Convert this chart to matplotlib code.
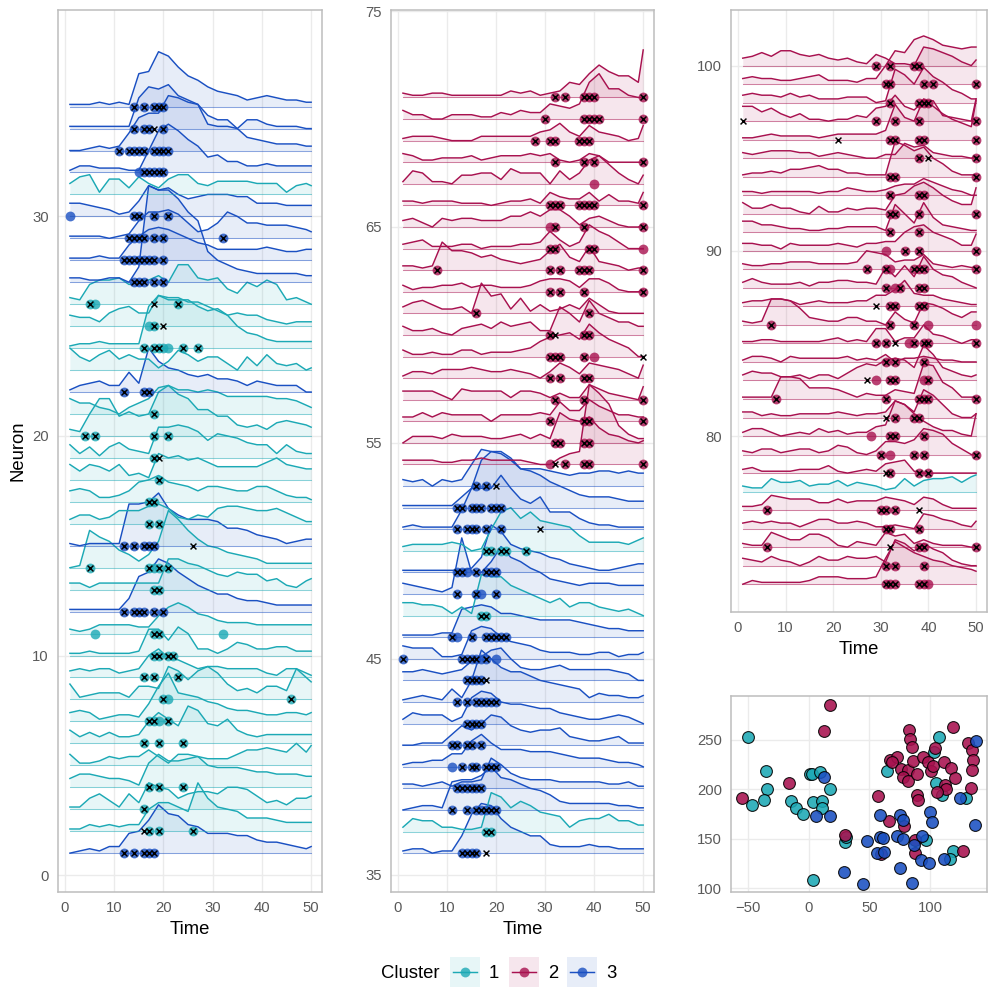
"""Ridgeline of neuron activity by cluster, with an embedding scatter."""

import numpy as np
import matplotlib
matplotlib.use("Agg")
import matplotlib.pyplot as plt
from matplotlib.patches import Rectangle

plt.rcParams["font.family"] = ["Liberation Sans", "DejaVu Sans"]

COLOURS = {1: "#1CA9B5", 2: "#A8114F", 3: "#1A50C2"}
W, H = 997, 997

# times the traces were read at
T = list(range(1, 50, 2)) + [50]

CLUSTER_1 = [2, 3, 4, 5, 6, 7, 8, 9, 10, 11, 13, 14, 16, 17, 18, 19, 20, 21, 23, 24, 25, 26, 31, 37, 47, 50, 77]
CLUSTER_3 = [1, 12, 15, 22, 27, 28, 29, 30, 32, 33, 34, 35, 36, 38, 39, 40, 41, 42, 43, 44, 45, 46, 48, 49, 51, 52, 53]

# trace heights above the neuron baseline, in tenths of a row
HEIGHTS = {
    1: [0,1,2,1,3, 3,9,10,15,22, 18,17,13,12,9, 9,9,8,8,6, 5,5,4,3,2, 3],
    2: [1,1,3,2,3, 2,3,3,10,13, 13,11,9,22,15, 11,10,9,6,6, 6,5,4,4,4, 4],
    3: [1,1,5,7,4, 1,7,3,12,10, 9,5,7,8,8, 7,10,10,9,6, 3,4,2,5,5, 6],
    4: [4,6,6,5,4, 4,3,1,11,15, 12,12,13,14,10, 9,9,9,8,7, 7,6,6,6,5, 5],
    5: [5,1,1,2,4, 3,4,4,7,4, 1,5,5,4,3, 3,3,5,7,7, 8,7,6,10,6, 9],
    6: [6,3,5,3,5, 3,3,4,10,14, 11,8,17,15,9, 8,11,6,4,3, 4,4,4,4,4, 4],
    7: [4,5,4,1,2, 3,3,2,8,16, 22,13,12,11,9, 8,6,5,5,4, 3,3,4,4,3, 4],
    8: [7,1,2,3,3, 3,1,6,6,5, 15,13,9,13,15, 12,7,4,5,3, 6,6,4,14,10, 8],
    9: [3,4,3,4,4, 2,3,4,10,13, 9,8,6,4,5, 5,4,4,4,4, 2,1,4,4,2, 1],
    10: [1,1,2,1,1, 1,1,2,12,12, 7,13,10,3,3, 1,3,6,5,3, 3,4,4,2,2, 2],
    11: [2,1,2,4,4, 4,4,3,3,8, 12,14,12,9,8, 6,5,5,5,4, 4,4,4,4,4, 4],
    12: [1,1,1,1,1, 1,6,16,18,24, 22,18,15,12,10, 8,8,6,5,5, 4,3,3,3,3, 3],
    13: [3,3,1,3,3, 3,3,3,3,3, 14,14,12,11,9, 7,6,8,7,7, 4,5,2,1,4, 5],
    14: [0,1,17,14,12, 8,6,3,6,12, 26,22,17,13,10, 9,7,6,5,4, 2,2,2,2,2, 2],
    15: [1,0,1,1,1, 1,19,19,20,24, 17,14,12,12,12, 11,8,8,7,5, 4,3,1,2,3, 3],
    16: [2,4,4,2,3, 6,6,6,8,9, 7,3,2,4,3, 7,8,8,7,6, 6,7,5,3,1, 1],
    17: [5,6,5,2,2, 3,5,9,10,12, 9,8,7,5,7, 7,6,5,5,7, 7,5,3,2,2, 1],
    18: [7,4,7,6,4, 7,2,3,1,12, 10,11,9,10,8, 6,6,6,6,6, 8,10,7,6,5, 5],
    19: [6,2,5,1,5, 7,4,3,2,14, 14,15,14,12,8, 11,10,9,7,6, 6,2,6,3,2, 2],
    20: [3,2,10,17,17, 9,11,9,10,20, 23,19,17,12,12, 9,9,5,4,5, 3,6,7,6,5, 4],
    21: [7,5,5,3,2, 0,3,5,7,12, 13,11,11,10,11, 10,8,8,8,8, 8,7,7,6,4, 3],
    22: [1,3,4,5,3, 3,9,4,20,14, 11,10,8,7,8, 6,6,5,3,5, 4,3,3,3,0, 0],
    23: [10,6,4,7,9, 5,7,5,5,1, 4,9,7,4,6, 6,3,0,6,2, 7,3,2,3,0, 1],
    24: [1,2,2,3,2, 2,2,2,19,24, 22,22,22,19,17, 18,15,10,7,6, 4,3,3,3,3, 3],
    25: [5,4,4,2,6, 8,9,6,6,14, 13,13,11,11,9, 7,5,6,5,5, 3,2,1,2,2, 2],
    26: [3,2,9,11,11, 12,9,10,11,13, 10,18,18,12,11, 12,7,5,10,8, 11,9,2,3,1, 0],
    27: [2,2,1,1,2, 2,0,7,44,42, 42,38,32,28,14, 10,8,6,5,4, 4,4,4,4,3, 3],
    28: [1,1,1,2,1, 1,7,11,14,15, 14,12,10,8,7, 5,5,5,5,5, 6,5,4,4,5, 5],
    29: [1,1,1,1,0, 1,2,8,12,12, 13,11,7,3,4, 7,12,10,7,7, 6,6,6,5,4, 3],
    30: [6,6,5,4,3, 1,2,7,14,12, 13,10,8,9,10, 10,10,9,9,6, 6,6,5,5,5, 5],
    31: [5,8,9,1,7, 7,3,8,5,3, 7,9,9,5,4, 6,6,6,6,5, 5,5,1,4,5, 4],
    32: [1,3,3,2,2, 2,1,1,10,19, 22,19,15,12,7, 8,5,5,3,3, 4,3,3,3,3, 3],
    33: [0,0,1,2,1, 2,8,15,17,17, 25,24,22,21,16, 14,14,10,6,5, 4,3,3,3,2, 2],
    34: [1,1,1,1,1, 1,1,14,19,18, 20,15,13,11,2, 1,1,0,4,4, 2,1,1,1,0, 0],
    35: [1,1,1,2,1, 2,1,15,16,25, 23,18,14,12,9, 7,6,5,3,4, 5,4,3,3,2, 2],
    36: [1,2,2,0,1, 1,8,18,23,22, 16,12,10,8,8, 4,3,3,3,4, 3,3,2,2,2, 2],
    37: [2,6,5,5,2, 2,1,1,2,18, 16,11,14,12,9, 8,7,2,5,6, 6,8,5,5,3, 3],
    38: [0,1,2,2,1, 13,14,14,16,20, 15,14,12,10,9, 7,4,3,3,3, 3,3,2,2,1, 1],
    39: [2,2,1,2,3, 1,3,3,4,14, 11,7,5,4,4, 4,3,3,3,3, 3,2,2,3,1, 1],
    40: [1,2,2,3,3, 6,6,12,15,11, 8,8,8,7,7, 7,6,5,4,4, 4,3,2,2,1, 0],
    41: [0,0,1,1,1, 5,9,7,10,14, 13,9,7,6,7, 7,8,4,3,2, 2,3,4,1,1, 1],
    42: [2,5,4,4,4, 1,3,12,15,14, 10,9,9,8,7, 7,5,4,3,2, 2,3,4,3,1, 0],
    43: [1,2,3,2,1, 6,2,10,24,20, 16,14,14,12,10, 9,8,7,6,2, 4,3,3,2,2, 3],
    44: [4,4,5,4,3, 4,5,9,11,14, 15,10,6,5,5, 6,7,5,5,5, 5,5,4,3,0, 0],
    45: [6,5,5,5,1, 1,2,13,15,14, 10,8,7,6,4, 3,3,3,2,2, 3,3,1,2,2, 3],
    46: [1,1,1,1,2, 2,13,14,15,14, 11,11,10,9,8, 8,8,8,7,6, 5,4,4,3,3, 3],
    47: [6,6,5,5,4, 1,4,1,19,18, 18,14,12,10,8, 6,8,4,6,6, 4,3,2,3,1, 0],
    48: [5,4,3,2,1, 3,26,10,10,15, 22,17,15,12,10, 7,6,5,4,5, 5,5,4,4,4, 4],
    49: [1,1,1,1,1, 1,1,2,7,22, 19,13,11,10,9, 7,6,4,3,2, 1,1,2,3,4, 4],
    50: [2,3,3,3,3, 4,3,0,1,10, 18,20,15,18,14, 13,12,11,7,4, 4,4,4,3,5, 6],
    51: [1,2,1,1,1, 1,9,19,19,19, 25,19,14,12,15, 8,8,8,5,3, 2,2,1,1,1, 1],
    52: [1,1,1,1,1, 1,5,9,22,26, 25,22,18,17,15, 12,10,8,6,5, 5,5,4,3,3, 3],
    53: [3,2,3,0,3, 2,3,10,17,16, 16,13,8,8,8, 7,6,5,6,6, 7,7,6,7,6, 6],
    54: [2,2,2,2,1, 1,2,2,3,2, 2,2,2,1,0, 0,3,5,6,37, 33,28,18,14,12, 12],
    55: [0,3,3,3,2, 4,3,3,3,2, 2,3,4,2,4, 2,14,11,10,12, 7,4,3,1,0, 1],
    56: [2,2,4,2,4, 3,3,3,3,0, 3,3,3,3,4, 3,9,5,5,10, 7,5,3,3,2, 2],
    57: [4,4,4,4,2, 0,5,4,4,4, 4,1,4,4,3, 1,3,1,1,7, 5,3,2,1,0, 6],
    58: [1,3,3,2,4, 4,4,5,4,3, 3,4,3,2,0, 3,7,5,2,7, 6,5,4,2,0, 6],
    59: [3,1,1,2,1, 1,3,3,1,2, 2,2,3,4,7, 9,10,11,8,15, 11,8,6,4,0, 0],
    60: [4,2,2,3,1, 0,3,4,5,3, 6,4,5,6,2, 2,13,10,6,16, 10,8,6,6,4, 4],
    61: [3,5,6,4,2, 2,3,0,14,8, 9,2,7,1,4, 1,2,4,2,7, 4,1,0,0,0, 0],
    62: [3,1,2,2,3, 3,4,2,3,3, 2,2,2,3,5, 6,6,5,2,6, 6,4,1,0,0, 1],
    63: [2,2,1,2,13, 9,9,8,6,7, 5,4,3,4,5, 9,12,6,4,11, 4,3,2,0,1, 1],
    64: [2,3,4,1,1, 1,2,2,0,1, 1,1,2,2,3, 8,4,1,3,11, 8,6,3,0,0, 0],
    65: [3,4,2,0,4, 3,4,4,3,3, 3,5,5,7,5, 8,8,5,1,4, 5,3,1,0,0, 1],
    66: [2,2,1,2,2, 2,1,1,1,0, 1,2,2,3,1, 6,4,3,3,6, 2,5,2,2,1, 6],
    67: [1,6,5,1,1, 0,4,4,5,5, 2,7,5,5,5, 0,6,2,5,11, 13,9,5,2,0, 4],
    68: [4,3,1,1,2, 2,2,3,1,2, 3,3,3,4,3, 4,1,0,1,4, 3,0,0,0,0, 0],
    69: [1,2,2,2,1, 0,0,0,2,2, 2,2,2,2,4, 5,8,4,2,7, 4,3,2,0,1, 7],
    70: [4,2,2,0,0, 2,2,2,1,1, 3,2,4,3,3, 7,6,5,7,17, 21,14,14,11,10, 10],
    71: [2,1,1,2,2, 1,1,1,1,1, 1,3,2,3,1, 2,3,7,6,11, 15,12,10,10,7, 22],
    72: [0,2,1,1,1, 1,1,2,4,4, 4,3,3,3,4, 14,23,20,17,15, 13,12,10,9,8, 7],
    73: [4,3,2,5,3, 2,0,2,5,3, 3,5,4,4,5, 2,14,12,8,12, 9,7,3,1,0, 0],
    74: [2,1,1,8,6, 4,4,7,7,5, 1,0,3,2,1, 8,6,7,2,4, 2,1,1,1,0, 0],
    75: [3,4,3,4,3, 3,1,3,5,5, 3,3,4,3,1, 1,2,1,0,8, 7,5,4,2,1, 4],
    76: [2,2,3,8,7, 6,6,6,4,4, 6,4,5,5,5, 7,6,5,3,7, 6,3,1,1,1, 1],
    77: [3,2,2,7,5, 5,6,3,4,4, 6,3,5,4,3, 1,2,7,3,6, 7,7,8,5,8, 9],
    78: [2,3,1,1,1, 1,2,2,2,4, 1,0,1,2,1, 5,6,7,1,0, 0,0,0,0,0, 0],
    79: [2,1,3,3,1, 2,3,3,1,2, 5,4,1,0,2, 7,7,6,8,14, 13,11,6,3,0, 0],
    80: [2,4,4,2,0, 1,2,1,4,2, 3,1,2,2,5, 6,19,17,12,8, 5,3,3,1,0, 12],
    81: [3,3,1,2,1, 1,2,2,2,2, 3,2,1,2,2, 3,9,7,3,15, 12,7,2,0,0, 2],
    82: [1,1,1,1,12, 12,11,6,6,6, 5,3,1,3,2, 2,5,4,3,19, 18,9,6,1,1, 1],
    83: [3,5,4,4,2, 2,3,1,3,3, 1,4,7,9,8, 11,12,11,7,19, 14,7,5,3,2, 3],
    84: [1,3,3,2,0, 3,2,2,2,2, 2,3,1,2,1, 4,0,2,2,3, 2,1,1,0,0, 0],
    85: [1,1,2,2,1, 1,1,1,1,2, 3,1,2,1,8, 8,1,3,3,10, 5,4,2,0,2, 2],
    86: [2,1,2,14,14, 13,9,4,3,2, 2,4,4,2,2, 0,7,3,1,12, 11,9,6,4,7, 7],
    87: [2,3,3,4,4, 3,1,2,3,2, 2,2,3,3,6, 6,9,14,7,6, 6,4,3,2,1, 1],
    88: [3,5,3,2,2, 2,3,1,3,3, 4,4,3,3,2, 11,6,12,6,17, 10,7,6,3,1, 0],
    89: [3,2,2,3,3, 4,4,4,3,3, 3,3,4,10,9, 8,4,5,5,8, 3,2,1,2,1, 1],
    90: [4,4,3,3,1, 4,3,3,3,3, 4,3,2,4,4, 5,5,10,13,14, 10,8,6,3,3, 9],
    91: [6,6,4,4,3, 2,2,1,1,2, 2,3,3,3,3, 1,15,10,5,16, 8,4,3,2,1, 1],
    92: [6,3,3,5,3, 3,1,0,4,1, 1,3,2,3,3, 2,10,11,15,17, 14,10,7,5,5, 14],
    93: [2,2,1,2,2, 2,2,2,1,2, 2,4,3,2,2, 3,5,6,6,9, 7,5,3,2,0, 0],
    94: [1,2,2,3,2, 4,4,5,6,4, 4,2,2,1,1, 1,19,17,14,16, 10,7,3,1,1, 1],
    95: [3,2,3,4,4, 4,3,3,1,2, 3,2,1,0,0, 2,2,8,6,7, 3,2,1,1,0, 1],
    96: [1,1,2,3,2, 2,2,2,1,2, 3,3,3,3,3, 5,19,12,10,22, 18,14,11,9,7, 21],
    97: [8,8,5,7,4, 2,4,1,1,0, 1,1,3,2,7, 8,14,8,6,11, 11,3,2,1,0, 12],
    98: [4,5,4,4,3, 5,3,4,2,2, 2,3,3,3,0, 1,18,15,10,19, 14,11,7,5,2, 2],
    99: [3,4,3,3,2, 2,3,4,5,2, 2,2,1,3,3, 10,18,17,24,26, 24,21,20,19,20, 20],
    100: [4,5,7,5,8, 8,6,5,6,4, 3,4,2,1,6, 4,1,1,0,10, 9,7,5,2,0, 3],
}

# spikes with a dot and a cross, dots alone, crosses alone
SPIKES = {
    1: [12, 14, 16, 17, 18], 2: [17, 19, 26], 3: [16], 4: [17, 19, 24], 6: [16, 19, 24],
    7: [17, 18, 21], 8: [20, 46], 9: [16, 18, 23], 10: [18, 19, 21, 22], 11: [18, 19],
    12: [12, 14, 15, 16, 18, 20], 13: [18, 19], 14: [5, 17, 19, 21], 15: [12, 14, 16, 17, 18],
    16: [17, 19], 17: [17, 18], 18: [19], 19: [18], 20: [4, 6, 18, 21], 21: [18],
    22: [12, 16, 17], 24: [16, 18, 19, 24, 27], 25: [18], 26: [5, 23],
    27: [14, 15, 16, 18, 20], 28: [12, 13, 14, 15, 16, 17, 18, 20], 29: [13, 14, 15, 16, 18, 20, 32],
    30: [14, 15, 18, 21], 32: [16, 17, 18, 19, 20], 33: [11, 13, 14, 15, 16, 18, 19, 20, 21],
    34: [14, 16, 17, 20], 35: [14, 16, 18, 19, 20],
    36: [13, 14, 15, 16], 37: [18, 19], 38: [11, 14, 16, 17, 18, 19, 20],
    39: [12, 13, 14, 15, 16, 17], 40: [13, 15, 16, 18, 19, 20], 41: [11, 12, 14, 15, 17],
    42: [14, 15, 16, 17], 43: [12, 14, 16, 17, 18, 19, 20], 44: [14, 15, 16, 17],
    45: [1, 13, 14, 15, 16, 18], 46: [11, 15, 18, 19, 20, 21, 22], 47: [17, 18],
    48: [12, 16, 20], 49: [12, 13, 16, 18, 19, 20], 50: [18, 19, 21, 22, 26],
    51: [12, 14, 15, 16, 18, 21], 52: [12, 13, 15, 16, 17, 19, 20, 21], 53: [16, 18],
    54: [34, 38, 39, 50], 55: [32, 33, 38, 39], 56: [31, 38, 39, 50], 57: [32, 38, 50],
    58: [31, 33, 38, 39], 59: [31, 32, 33, 38], 60: [31, 38, 39], 61: [16, 39],
    62: [31, 33, 38, 50], 63: [8, 31, 33, 37, 38, 39, 50], 64: [31, 32, 39, 40],
    65: [32, 38, 50], 66: [31, 32, 33, 37, 38, 39, 40, 50], 68: [32, 38, 40, 50],
    69: [28, 31, 32, 37, 38, 39], 70: [30, 38, 39, 40, 41, 50], 71: [32, 34, 38, 39, 40, 50],
    72: [31, 32, 33, 38, 39], 73: [31, 33, 39], 74: [6, 38, 39, 50], 75: [31, 32, 38],
    76: [6, 30, 31, 33], 78: [32, 38, 40], 79: [30, 37, 39, 50], 80: [32, 33, 39],
    81: [33, 37, 38], 82: [8, 31, 38, 39, 40, 50], 83: [32, 33, 40], 84: [31, 33, 39],
    85: [29, 31, 37, 39, 40, 50], 86: [7, 32, 37], 87: [32, 33, 38, 39],
    88: [31, 34, 38, 39], 89: [27, 31, 37, 38, 39, 50], 90: [35, 38, 50], 91: [32, 38],
    92: [32, 33, 38, 50], 93: [32, 38, 39], 94: [32, 33, 50], 95: [38, 50],
    96: [32, 33, 38, 39, 50], 97: [29, 33, 38, 50], 98: [32, 38, 39, 40],
    99: [31, 32, 39, 41, 50], 100: [29, 32, 37, 38],
}
DOTS = {
    7: [19], 8: [21], 11: [6, 32], 14: [18], 24: [20, 21], 25: [17], 26: [6], 30: [1], 32: [15],
    40: [11], 45: [17, 20], 46: [12], 48: [17], 49: [14], 54: [31], 59: [40], 64: [50],
    65: [31], 67: [40], 72: [40], 79: [32], 80: [28], 83: [29, 39], 85: [36],
    86: [40, 50], 88: [33], 89: [32], 90: [31],
}
CROSSES = {
    2: [16], 15: [26], 19: [19], 25: [20], 26: [18], 34: [18], 36: [18], 44: [18], 51: [29], 53: [20],
    54: [32], 59: [50], 60: [32], 74: [32], 76: [38], 78: [31], 81: [31], 83: [27],
    85: [33], 87: [29], 95: [40], 96: [21], 97: [1],
}

SCATTER_X_1 = [-50, -35.5, -34.4, -37, -47, -14.6, -10.7, -4.7, 0.8, 3, 9.6, 18, 3.3, 11.3, 11.3, 3.3, 29.8, 31,
               64.5, 107.7, 103, 105, 110, 129.5, 97, 118.7, 116.8]
SCATTER_Y_1 = [253, 219, 200.5, 189, 184, 188, 181, 175, 216, 215.7, 218, 200.5, 187, 188, 181, 108, 146.6, 151.7,
               219, 253, 238, 206.6, 194, 191.4, 149, 138, 129.5]
SCATTER_X_2 = [18, 12.7, -16, -55, 29.8, 57, 66, 78.8, 87.6, 87.6, 60, 82.6, 83.5, 85, 67, 73, 69, 75.8, 82, 78, 82,
               86, 89, 94, 98.6, 100.5, 102.8, 104, 111.6, 117, 120.7, 119.3, 131.7, 134.7, 135.8, 134.4, 134, 89,
               90.4, 112.4, 113, 106, 127.5]
SCATTER_Y_2 = [285, 258.8, 206, 191.4, 154, 193, 168, 162.5, 149, 136, 134, 260.4, 251, 243, 230, 232.5, 227.4, 220.7,
               220, 212, 208, 229, 215, 232.5, 227.4, 219, 224, 241.6, 228, 221.7, 211, 262.8, 246.6, 240, 230, 219.7,
               201.5, 193.8, 188.7, 204, 200.5, 197, 138]
SCATTER_X_3 = [12.4, 6.3, 17.4, 29, 45, 48, 58.7, 59, 61.4, 56.5, 62, 75, 77.4, 73, 78, 75, 85, 86.8, 92.6, 93.7,
               99.4, 100, 102, 111.6, 124.8, 137.7, 137.5]
SCATTER_Y_3 = [212, 172.6, 173, 116, 104.5, 148, 173.6, 151.7, 150.7, 135, 136.5, 173.6, 168.5, 152.7, 150, 120,
               105.5, 144, 128, 153, 125, 177, 167, 129, 191.4, 249.3, 164]


def cluster_of(neuron):
    if neuron in CLUSTER_1:
        return 1
    if neuron in CLUSTER_3:
        return 3
    return 2


def pixel_axes(fig, left, top, right, bottom):
    ax = fig.add_axes([left / W, 1 - bottom / H, (right - left) / W, (bottom - top) / H])
    for s in ax.spines.values():
        s.set_color("#BDBDBD")
        s.set_linewidth(1.1)
    ax.grid(True, color="#EBEBEB", linewidth=1.0)
    ax.set_axisbelow(True)
    ax.tick_params(length=0, labelsize=10.7, labelcolor="#5A5A5A", pad=6.5)
    return ax


def draw_ridges(ax, neurons):
    t = np.array(T)
    for n in neurons:
        col = COLOURS[cluster_of(n)]
        y = n + np.array(HEIGHTS[n]) / 10
        ax.fill_between(t, n, y, color=col, alpha=0.1, linewidth=0)
        ax.plot([t[0], t[-1]], [n, n], color=col, alpha=0.5, linewidth=0.75)
        ax.plot(t, y, color=col, linewidth=1.05, solid_joinstyle="round")
    for n in neurons:
        col = COLOURS[cluster_of(n)]
        sp = SPIKES.get(n, [])
        dots = sp + DOTS.get(n, [])
        cross = sp + CROSSES.get(n, [])
        if dots:
            ax.scatter(dots, [n] * len(dots), s=50, color=col, alpha=0.8, linewidths=0, zorder=4)
        if cross:
            ax.scatter(cross, [n] * len(cross), s=18, marker="x", color="black", linewidths=1.05, zorder=5)
    ax.set_xticks([0, 10, 20, 30, 40, 50])
    ax.set_xlabel("Time", fontsize=13.3, labelpad=4)


fig = plt.figure(figsize=(W / 100, H / 100), dpi=100)

ax1 = pixel_axes(fig, 58, 10, 322, 892)
draw_ridges(ax1, range(1, 36))
ax1.set_xlim(-1.42, 52.2)
ax1.set_ylim(-0.77, 39.4)
ax1.set_yticks([0, 10, 20, 30])
ax1.set_ylabel("Neuron", fontsize=13.3, labelpad=4)

ax2 = pixel_axes(fig, 391, 10, 654, 892)
draw_ridges(ax2, range(36, 72))
ax2.set_xlim(-1.43, 52.2)
ax2.set_ylim(34.2, 75.05)
ax2.set_yticks([35, 45, 55, 65, 75])

ax3 = pixel_axes(fig, 731, 10, 987, 612)
draw_ridges(ax3, range(72, 101))
ax3.set_xlim(-1.47, 52.3)
ax3.set_ylim(70.5, 103)
ax3.set_yticks([80, 90, 100])

ax4 = pixel_axes(fig, 731, 696, 987, 892)
for cl, xs, ys in [(1, SCATTER_X_1, SCATTER_Y_1), (2, SCATTER_X_2, SCATTER_Y_2), (3, SCATTER_X_3, SCATTER_Y_3)]:
    ax4.scatter(xs, ys, s=72, color=COLOURS[cl], alpha=0.88, edgecolors="black", linewidths=0.8, zorder=3)
ax4.set_xlim(-64, 147)
ax4.set_ylim(96, 294.5)
ax4.set_xticks([-50, 0, 50, 100])
ax4.set_yticks([100, 150, 200, 250])

# legend drawn by hand, in pixels of the figure
leg = fig.add_axes([0, 0, 1, 1], facecolor="none")
leg.set_xlim(0, W)
leg.set_ylim(H, 0)
leg.axis("off")
leg.text(381, 973, "Cluster", fontsize=13.3, va="center", ha="left")
for cl, left, lab in [(1, 450, 494), (2, 509, 553), (3, 567, 611)]:
    leg.add_patch(Rectangle((left, 957), 30, 30, color=COLOURS[cl], alpha=0.1, linewidth=0))
    leg.plot([left + 3, left + 27], [972, 972], color=COLOURS[cl], linewidth=1.05)
    leg.scatter([left + 15], [972], s=50, color=COLOURS[cl], alpha=0.8, linewidths=0)
    leg.text(lab, 973, str(cl), fontsize=13.3, va="center", ha="center")

fig.savefig("out.png", dpi=100)
plt.close(fig)
